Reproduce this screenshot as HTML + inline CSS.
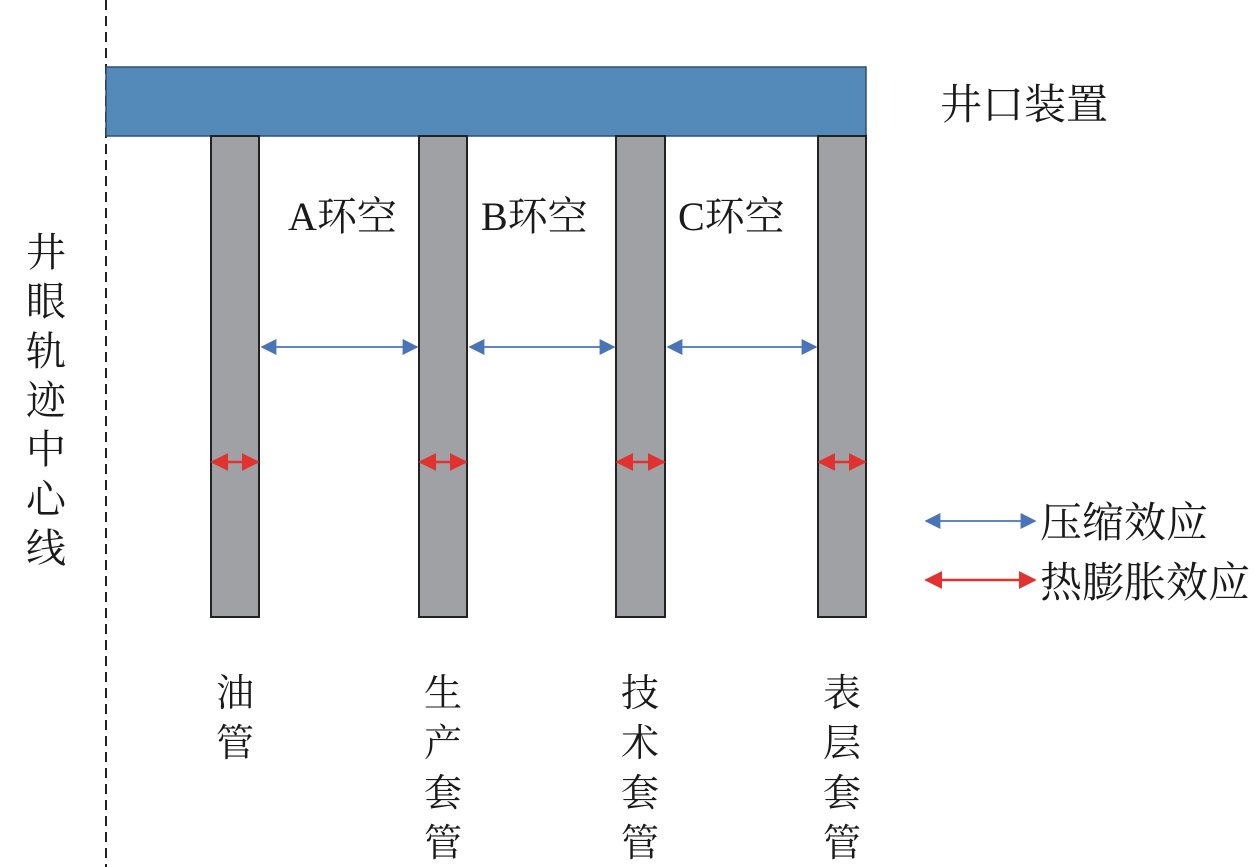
<!DOCTYPE html>
<html><head><meta charset="utf-8"><style>
html,body{margin:0;padding:0;background:#fff;}
svg{display:block;}
text{font-family:"Liberation Serif","Noto Serif CJK SC",serif;fill:#1a1a1a;}
</style></head><body>
<svg width="1259" height="867" viewBox="0 0 1259 867" xmlns="http://www.w3.org/2000/svg">
<defs>
<marker id="bh" viewBox="0 0 10 10" refX="9" refY="5" markerWidth="16" markerHeight="16" markerUnits="userSpaceOnUse" orient="auto-start-reverse"><path d="M0,0 L10,5 L0,10 z" fill="#4a74b8"/></marker>
<marker id="rh" viewBox="0 0 10 10" refX="9" refY="5" markerWidth="18" markerHeight="18" markerUnits="userSpaceOnUse" orient="auto-start-reverse"><path d="M0,0 L10,5 L0,10 z" fill="#e0322f"/></marker>
</defs>
<line x1="106" y1="0" x2="106" y2="867" stroke="#222" stroke-width="2" stroke-dasharray="10,6"/>
<rect x="106" y="67" width="760" height="69" fill="#548ab9" stroke="#2e4f70" stroke-width="1.5"/>
<g fill="#a0a1a5" stroke="#222" stroke-width="2">
<rect x="211" y="136" width="48" height="481"/>
<rect x="419" y="136" width="48" height="481"/>
<rect x="616" y="136" width="49" height="481"/>
<rect x="818" y="136" width="48" height="481"/>
</g>
<g stroke="#4a74b8" stroke-width="1.8">
<line x1="262" y1="347" x2="417" y2="347" marker-start="url(#bh)" marker-end="url(#bh)"/>
<line x1="470" y1="347" x2="614" y2="347" marker-start="url(#bh)" marker-end="url(#bh)"/>
<line x1="668" y1="347" x2="816" y2="347" marker-start="url(#bh)" marker-end="url(#bh)"/>
<line x1="926" y1="521" x2="1035" y2="521" marker-start="url(#bh)" marker-end="url(#bh)"/>
</g>
<g stroke="#e0322f" stroke-width="2.5">
<line x1="212" y1="462" x2="258" y2="462" marker-start="url(#rh)" marker-end="url(#rh)"/>
<line x1="420" y1="462" x2="466" y2="462" marker-start="url(#rh)" marker-end="url(#rh)"/>
<line x1="617" y1="462" x2="664" y2="462" marker-start="url(#rh)" marker-end="url(#rh)"/>
<line x1="819" y1="462" x2="865" y2="462" marker-start="url(#rh)" marker-end="url(#rh)"/>
<line x1="926" y1="580" x2="1035" y2="580" marker-start="url(#rh)" marker-end="url(#rh)"/>
</g>
<text x="940" y="119" font-size="42">井口装置</text>
<text x="288" y="230" font-size="40">A环空</text>
<text x="481" y="230" font-size="40">B环空</text>
<text x="678" y="230" font-size="40">C环空</text>
<text x="1040" y="537" font-size="42">压缩效应</text>
<text x="1040" y="597" font-size="42">热膨胀效应</text>
<g font-size="40" text-anchor="middle">
<text x="46" y="266">井</text><text x="46" y="315">眼</text><text x="46" y="365">轨</text><text x="46" y="414">迹</text><text x="46" y="463">中</text><text x="46" y="513">心</text><text x="46" y="562">线</text>
</g>
<g font-size="38" text-anchor="middle">
<text x="235" y="706">油</text><text x="235" y="756">管</text>
<text x="443" y="706">生</text><text x="443" y="756">产</text><text x="443" y="806">套</text><text x="443" y="856">管</text>
<text x="640" y="706">技</text><text x="640" y="756">术</text><text x="640" y="806">套</text><text x="640" y="856">管</text>
<text x="842" y="706">表</text><text x="842" y="756">层</text><text x="842" y="806">套</text><text x="842" y="856">管</text>
</g>
</svg>
</body></html>
